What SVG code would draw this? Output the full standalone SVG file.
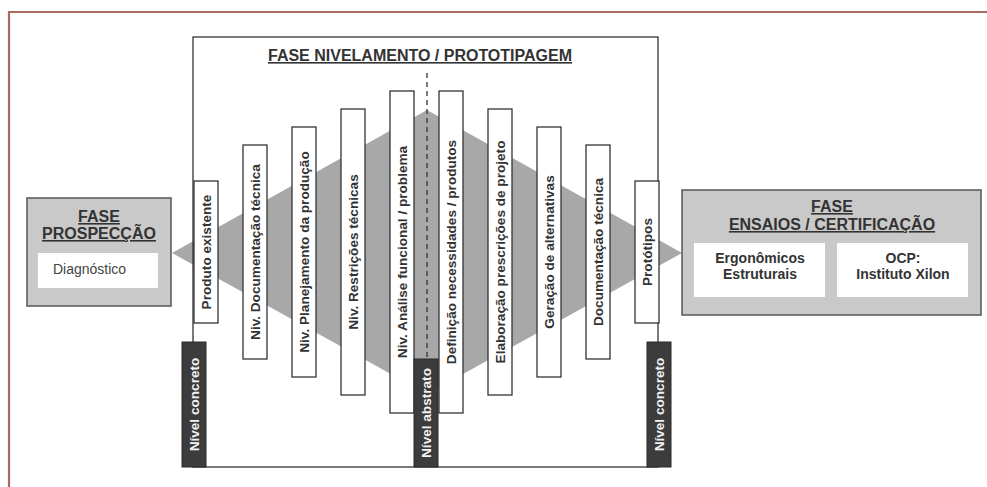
<svg xmlns="http://www.w3.org/2000/svg" width="987" height="487" viewBox="0 0 987 487">
<style>
.bar{fill:#fff;stroke:#333;stroke-width:1.3}
.bt{font-family:"Liberation Sans",Arial,sans-serif;font-weight:bold;font-size:13.6px;fill:#333;text-anchor:middle}
.dk{fill:#3c3c3c;stroke:#2a2a2a;stroke-width:1}
.wt{font-family:"Liberation Sans",Arial,sans-serif;font-weight:bold;font-size:13.6px;fill:#f2f2f2;text-anchor:middle}
.ph{fill:#c9c9c9;stroke:#555;stroke-width:1.5}
.in{fill:#fff;stroke:none}
.ht{font-family:"Liberation Sans",Arial,sans-serif;font-weight:bold;font-size:16px;fill:#333;text-anchor:middle;text-decoration:underline}
.nt{font-family:"Liberation Sans",Arial,sans-serif;font-size:14px;fill:#444}
.st{font-family:"Liberation Sans",Arial,sans-serif;font-weight:bold;font-size:14px;fill:#333;text-anchor:middle}
</style>
<rect width="987" height="487" fill="#fff"/>
<path d="M9 487 V12 H987" fill="none" stroke="#a86b5e" stroke-width="2.2"/>

<polygon id="diamond" points="172,253 427,110 682,253 427,394" fill="#a8a8a8"/>

<g id="fase-nivelamento">
<rect x="193" y="37" width="465" height="430" fill="none" stroke="#333" stroke-width="1.3"/>
<text class="ht" x="420" y="61">FASE NIVELAMENTO / PROTOTIPAGEM</text>
</g>

<g id="connectors">
<line x1="427" y1="73" x2="427" y2="359" stroke="#333" stroke-width="1.3" stroke-dasharray="5,4"/>
</g>

<g id="b1"><rect class="bar" x="194" y="181" width="24" height="142"/><text class="bt" transform="translate(210.8,252) rotate(-90)">Produto existente</text></g>
<g id="b2"><rect class="bar" x="243" y="145" width="24" height="214"/><text class="bt" transform="translate(259.8,252) rotate(-90)">Niv. Documentação técnica</text></g>
<g id="b3"><rect class="bar" x="292" y="127" width="24" height="250"/><text class="bt" transform="translate(308.8,252) rotate(-90)">Niv. Planejamento da produção</text></g>
<g id="b4"><rect class="bar" x="341" y="109" width="24" height="286"/><text class="bt" transform="translate(357.8,252) rotate(-90)">Niv. Restrições técnicas</text></g>
<g id="b5"><rect class="bar" x="390" y="91" width="24" height="322"/><text class="bt" transform="translate(406.8,252) rotate(-90)">Niv. Análise funcional / problema</text></g>
<g id="b6"><rect class="bar" x="439" y="91" width="24" height="322"/><text class="bt" transform="translate(455.8,252) rotate(-90)">Definição necessidades / produtos</text></g>
<g id="b7"><rect class="bar" x="488" y="109" width="24" height="286"/><text class="bt" transform="translate(504.8,252) rotate(-90)">Elaboração prescrições de projeto</text></g>
<g id="b8"><rect class="bar" x="537" y="127" width="24" height="250"/><text class="bt" transform="translate(553.8,252) rotate(-90)">Geração de alternativas</text></g>
<g id="b9"><rect class="bar" x="586" y="145" width="24" height="214"/><text class="bt" transform="translate(602.8,252) rotate(-90)">Documentação técnica</text></g>
<g id="b10"><rect class="bar" x="635" y="181" width="24" height="142"/><text class="bt" transform="translate(651.8,252) rotate(-90)">Protótipos</text></g>

<g id="nivel-concreto-l"><rect class="dk" x="182" y="342" width="24" height="125"/><text class="wt" transform="translate(198.8,404.5) rotate(-90)">Nível concreto</text></g>
<g id="nivel-abstrato"><rect class="dk" x="414" y="359" width="24" height="108"/><text class="wt" transform="translate(430.8,413) rotate(-90)">Nível abstrato</text></g>
<g id="nivel-concreto-r"><rect class="dk" x="647" y="342" width="24" height="125"/><text class="wt" transform="translate(663.8,404.5) rotate(-90)">Nível concreto</text></g>

<g id="fase-prospeccao">
<rect class="ph" x="27" y="198" width="144" height="108"/>
<text class="ht" x="99" y="222">FASE</text>
<text class="ht" x="99" y="239">PROSPECÇÃO</text>
<rect class="in" x="38" y="253" width="120" height="35"/>
<text class="nt" x="53" y="274">Diagnóstico</text>
</g>

<g id="fase-ensaios">
<rect class="ph" x="682" y="190" width="299" height="125"/>
<text class="ht" x="832" y="212">FASE</text>
<text class="ht" x="832" y="230">ENSAIOS / CERTIFICAÇÃO</text>
<rect class="in" x="694" y="243" width="131" height="54"/>
<text class="st" x="760" y="263">Ergonômicos</text>
<text class="st" x="760" y="279">Estruturais</text>
<rect class="in" x="837" y="243" width="131" height="54"/>
<text class="st" x="903" y="263">OCP:</text>
<text class="st" x="903" y="279">Instituto Xilon</text>
</g>
</svg>
